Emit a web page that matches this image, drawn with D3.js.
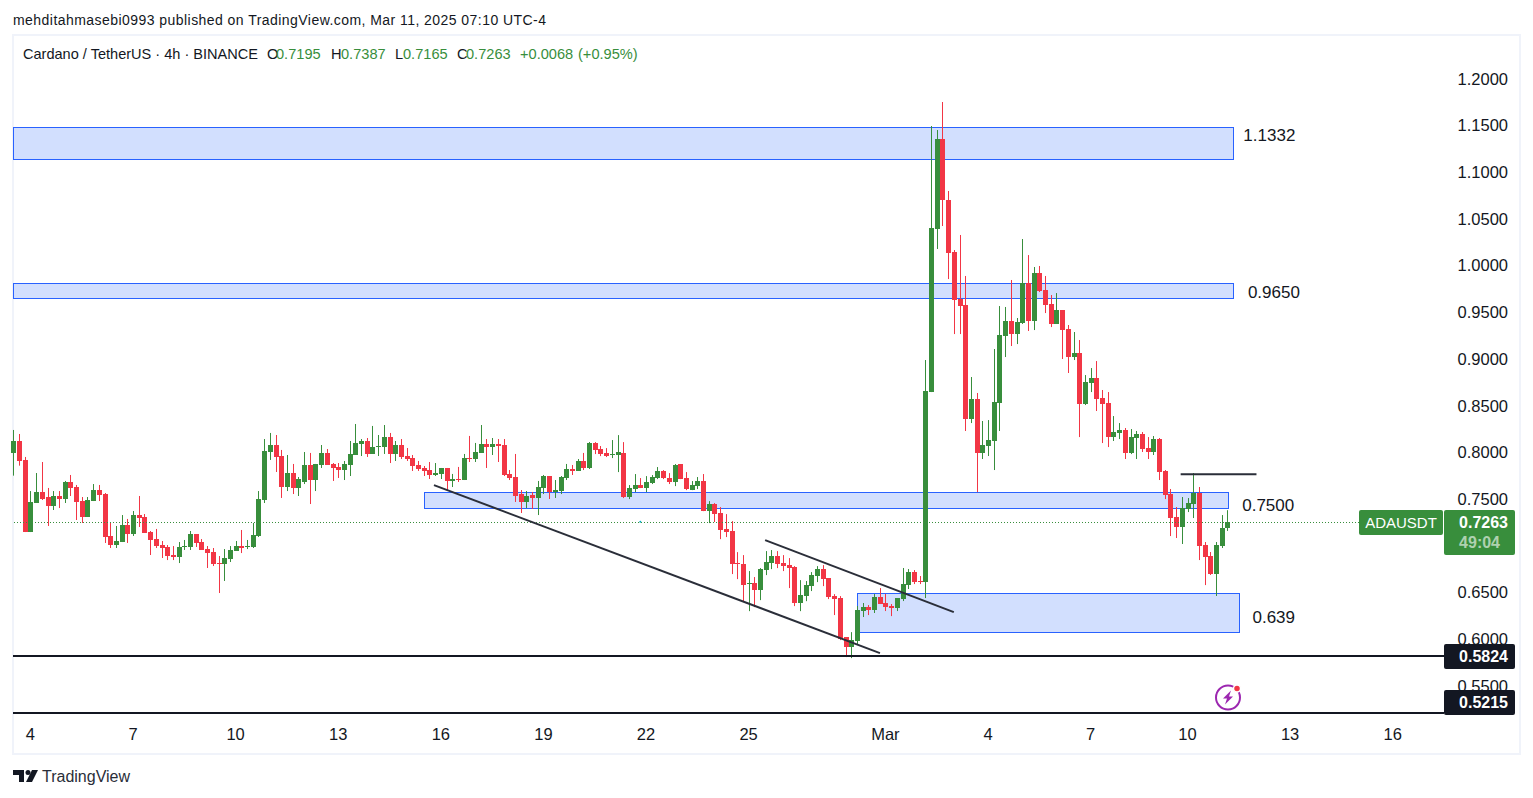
<!DOCTYPE html>
<html>
<head>
<meta charset="utf-8">
<script src="https://cdn.jsdelivr.net/npm/d3@7"></script>
<style>
  html, body { margin: 0; padding: 0; background: #fff; }
  svg { display: block; }
  text { font-family: "Liberation Sans", Arial, sans-serif; }
</style>
</head>
<body>
<div class="chart"></div>
<script>
const width = 1533, height = 798;

// ohlc, one entry per 4h candle
const opens = [.8000,.8128,.7925,.7153,.7464,.7582,.7528,.7432,.7539,.7507,
  .7689,.7635,.7485,.7314,.7485,.7603,.7560,.7111,.7014,.7046,
  .7228,.7132,.7335,.7314,.7153,.7078,.7014,.6993,.6907,.6886,
  .6993,.6993,.7132,.7046,.6971,.6939,.6821,.6811,.6864,.6950,
  .7003,.6993,.6993,.7111,.7496,.8010,.8085,.7967,.7635,.7785,
  .7625,.7689,.7871,.7710,.7871,.8000,.7882,.7850,.7817,.7871,
  .7978,.8096,.8128,.7989,.8064,.8064,.8171,.7989,.8085,.7967,
  .7946,.7871,.7839,.7817,.7764,.7775,.7839,.7700,.7721,.7710,
  .7946,.7935,.8000,.8096,.8064,.8096,.8085,.7775,.7742,.7560,
  .7475,.7550,.7518,.7625,.7753,.7582,.7592,.7732,.7828,.7807,
  .7914,.7839,.8106,.8041,.7999,.7977,.7977,.7999,.7527,.7613,
  .7656,.7624,.7677,.7731,.7806,.7731,.7688,.7881,.7731,.7602,
  .7645,.7699,.7377,.7452,.7356,.7185,.7163,.6820,.6810,.6596,
  .6606,.6531,.6745,.6820,.6895,.6820,.6799,.6778,.6392,.6467,
  .6574,.6681,.6756,.6660,.6467,.6446,.6028,.5921,.5986,.6307,
  .6350,.6318,.6457,.6393,.6361,.6339,.6435,.6585,.6725,.6628,
  .6618,.8652,1.0398,1.1362,1.0708,1.0152,.9648,.9584,.8363,.8577,
  .7999,.8074,.8128,.8534,.9252,.9413,.9273,.9391,.9820,.9413,
  .9927,.9745,.9595,.9381,.9530,.9327,.9027,.9070,.8524,.8749,
  .8802,.8588,.8534,.8170,.8213,.8245,.7999,.8160,.8203,.8053,
  .8010,.8149,.7806,.7560,.7314,.7207,.7399,.7453,.7571,.7014,
  .6896,.6703,.7003,.7195];
const highs = [.8246,.8203,.7957,.7592,.7785,.7903,.7625,.7592,.7592,.7700,
  .7764,.7657,.7528,.7528,.7667,.7657,.7571,.7250,.7218,.7335,
  .7293,.7378,.7539,.7346,.7164,.7186,.7057,.7014,.7003,.7046,
  .7068,.7164,.7132,.7078,.7003,.6982,.6896,.6971,.7003,.7057,
  .7175,.7068,.7250,.7592,.8149,.8214,.8192,.8032,.7978,.7882,
  .7742,.8010,.8000,.7882,.8085,.8042,.7892,.7892,.7914,.8128,
  .8310,.8149,.8160,.8289,.8192,.8299,.8214,.8128,.8149,.8053,
  .7978,.7914,.7860,.7903,.7892,.7839,.7839,.7775,.7850,.7989,
  .8182,.8107,.8299,.8149,.8160,.8149,.8149,.7817,.7989,.7603,
  .7592,.7582,.7700,.7764,.7753,.7710,.7753,.7882,.7871,.7935,
  .8000,.8117,.8116,.8074,.8052,.8138,.8191,.8116,.7656,.7774,
  .7731,.7752,.7763,.7849,.7816,.7784,.7881,.7881,.7795,.7699,
  .7742,.7774,.7484,.7463,.7420,.7345,.7270,.6938,.6906,.6735,
  .6671,.6767,.6949,.6960,.6949,.6906,.6874,.6788,.6638,.6628,
  .6724,.6788,.6799,.6660,.6488,.6467,.6028,.6081,.6361,.6393,
  .6371,.6489,.6553,.6489,.6382,.6446,.6768,.6757,.6746,.6682,
  .8995,1.1501,1.1458,1.1758,1.0805,1.0173,1.0334,.9895,.8813,.8642,
  .8342,.8352,.9113,.9573,.9563,.9852,.9445,1.0291,1.0119,.9991,
  1.0002,.9895,.9691,.9712,.9530,.9370,.9295,.9209,.8834,.8909,
  .8984,.8674,.8652,.8395,.8320,.8267,.8256,.8235,.8224,.8170,
  .8181,.8160,.7817,.7614,.7421,.7528,.7517,.7785,.7635,.7046,
  .6939,.7046,.7335,.7387];
const lows = [.7757,.7864,.7153,.7153,.7464,.7496,.7218,.7389,.7410,.7464,
  .7539,.7282,.7250,.7314,.7485,.7485,.7036,.6982,.6982,.7046,
  .7036,.7111,.7207,.7143,.6907,.6982,.6875,.6853,.6853,.6821,
  .6961,.6961,.6993,.6961,.6768,.6789,.6500,.6629,.6832,.6950,
  .6928,.6971,.6982,.7100,.7464,.7925,.7796,.7518,.7592,.7560,
  .7539,.7667,.7453,.7592,.7839,.7871,.7700,.7732,.7710,.7753,
  .7978,.7967,.7957,.7989,.7967,.7989,.7892,.7914,.7935,.7914,
  .7807,.7807,.7753,.7721,.7753,.7721,.7603,.7635,.7689,.7710,
  .7903,.7903,.8000,.7839,.7978,.7903,.7753,.7710,.7475,.7357,
  .7410,.7400,.7335,.7560,.7507,.7518,.7560,.7710,.7764,.7807,
  .7817,.7828,.7988,.7966,.7956,.7945,.7795,.7517,.7506,.7581,
  .7624,.7581,.7667,.7720,.7720,.7667,.7645,.7720,.7602,.7602,
  .7613,.7377,.7249,.7260,.7077,.7099,.6703,.6649,.6403,.6306,
  .6349,.6424,.6692,.6756,.6767,.6735,.6553,.6360,.6306,.6413,
  .6521,.6617,.6574,.6435,.6264,.5996,.5814,.5803,.5943,.6243,
  .6264,.6286,.6382,.6307,.6253,.6307,.6414,.6543,.6596,.6596,
  .6446,.8652,1.0184,1.0430,.9862,.9273,.9273,.8235,.8320,.7581,
  .7935,.7967,.7817,.8235,.9027,.9145,.9166,.9381,.9306,.9316,
  .9723,.9498,.9348,.9381,.9006,.8856,.8995,.8170,.8513,.8652,
  .8449,.8106,.8063,.8128,.8149,.7935,.7988,.7935,.8010,.7935,
  .7978,.7710,.7506,.7110,.7089,.7025,.7367,.7303,.6853,.6585,
  .6693,.6468,.6982,.7165];
const closes = [.8128,.7917,.7153,.7475,.7582,.7507,.7432,.7539,.7507,.7689,
  .7625,.7475,.7314,.7496,.7603,.7550,.7100,.7014,.7057,.7228,
  .7132,.7335,.7303,.7143,.7068,.7003,.6982,.6896,.6886,.6993,
  .7003,.7132,.7036,.6961,.6928,.6811,.6811,.6875,.6961,.7003,
  .6982,.7003,.7121,.7507,.8021,.8085,.7957,.7635,.7785,.7625,
  .7721,.7871,.7710,.7882,.8000,.7871,.7839,.7817,.7882,.7989,
  .8107,.8128,.7989,.8064,.8074,.8171,.7989,.8085,.7957,.7935,
  .7860,.7828,.7807,.7764,.7785,.7839,.7700,.7721,.7710,.7946,
  .7935,.8010,.8096,.8064,.8096,.8074,.7764,.7732,.7539,.7475,
  .7539,.7518,.7635,.7753,.7582,.7603,.7742,.7828,.7807,.7914,
  .7839,.8107,.8031,.7988,.7966,.7988,.8009,.7527,.7624,.7656,
  .7624,.7688,.7742,.7806,.7731,.7688,.7870,.7720,.7613,.7656,
  .7699,.7377,.7452,.7345,.7174,.7152,.6810,.6810,.6585,.6606,
  .6531,.6756,.6831,.6895,.6810,.6788,.6767,.6392,.6478,.6585,
  .6692,.6756,.6649,.6456,.6435,.6006,.5921,.5996,.6318,.6350,
  .6318,.6457,.6382,.6350,.6339,.6446,.6596,.6725,.6618,.6618,
  .8663,1.0409,1.1362,1.0708,1.0141,.9638,.9573,.8363,.8577,.7999,
  .8085,.8138,.8545,.9263,.9413,.9273,.9402,.9820,.9413,.9927,
  .9734,.9584,.9381,.9530,.9316,.9027,.9070,.8524,.8759,.8802,
  .8577,.8524,.8170,.8224,.8245,.7999,.8170,.8203,.8042,.8010,
  .8149,.7796,.7549,.7303,.7207,.7410,.7464,.7571,.7003,.6885,
  .6703,.7014,.7196,.7263];

const priceTicks = [1.2, 1.15, 1.1, 1.05, 1.0, .95, .9, .85, .8, .75, .65, .6, .55];
const timeTickIdx = [3, 21, 39, 57, 75, 93, 111, 129, 153, 171, 189, 206, 224, 242];
const timeTickLabels = ["4", "7", "10", "13", "16", "19", "22", "25", "Mar", "4", "7", "10", "13", "16"];

// drawings: [idx from, idx to, price top, price bottom]
const zones = [[0, 214, 1.1490, 1.1142], [0, 214, .9820, .9660],
  [72.05, 213.1, .7581, .7405], [148.1, 215.1, .6500, .6082]];
const zoneLabels = [["1.1332", 215.8, 1.1405], ["0.9650", 216.6, .9723], ["0.7500", 215.6, .7440], ["0.639", 217.4, .6240]];
const trendLines = [[73.8, .7656, 152.05, .5857], [131.9, .7067, 165.0, .6296], [204.8, .7772, 218.1, .7772]];
const levels = [.5824, .5215];
const lastPrice = .7263;

const green = "#388e3c", red = "#f23645", ink = "#131722";

const x = d3.scaleLinear().domain([0, 1]).range([13.3, 19]);
const y = d3.scaleLinear().domain([1.2, .55]).range([79.4, 686.4]);

const svg = d3.select(".chart")
    .append("svg")
    .attr("width", width)
    .attr("height", height)
    .attr("viewBox", [0, 0, width, height]);

// frame of the chart
svg.append("rect")
    .attr("x", 13).attr("y", 35)
    .attr("width", 1507).attr("height", 719)
    .attr("fill", "none")
    .attr("stroke", "#f0f3fa")
    .attr("stroke-width", 2);

// header
svg.append("text")
    .attr("x", 13).attr("y", 25)
    .attr("font-size", 14)
    .attr("fill", ink)
    .attr("textLength", 533)
    .text("mehditahmasebi0993 published on TradingView.com, Mar 11, 2025 07:10 UTC-4");

const legendBits = [
    ["Cardano / TetherUS · 4h · BINANCE", 23, ink], ["O", 267, ink], ["0.7195", 276, green],
    ["H", 331, ink], ["0.7387", 341, green], ["L", 395, ink], ["0.7165", 403, green],
    ["C", 457, ink], ["0.7263", 466, green], ["+0.0068", 520, green], ["(+0.95%)", 578, green]
];
svg.selectAll(".legend")
    .data(legendBits)
    .join("text")
    .attr("class", "legend")
    .attr("x", d => d[1])
    .attr("y", 59)
    .attr("font-size", 14.6)
    .attr("fill", d => d[2])
    .text(d => d[0]);
svg.select(".legend")
    .attr("textLength", 235)
    .attr("lengthAdjust", "spacingAndGlyphs");

const plot = svg.append("g");

plot.selectAll(".zone")
    .data(zones)
    .join("rect")
    .attr("class", "zone")
    .attr("x", d => Math.round(x(d[0])) + .5)
    .attr("y", d => Math.round(y(d[2])) + .5)
    .attr("width", d => Math.round(x(d[1]) - x(d[0])))
    .attr("height", d => Math.round(y(d[3]) - y(d[2])))
    .attr("fill", "#d2dffe")
    .attr("stroke", "#2962ff")
    .attr("stroke-width", 1);

// last price line
svg.append("line")
    .attr("x1", 14).attr("x2", 1359)
    .attr("y1", Math.round(y(lastPrice)) + .5).attr("y2", Math.round(y(lastPrice)) + .5)
    .attr("stroke", green)
    .attr("stroke-dasharray", "1 2");

svg.append("circle")
    .attr("cx", x(110.0)).attr("cy", y(lastPrice))
    .attr("r", 1)
    .attr("fill", "#00acc1");

const candles = plot.selectAll(".candle")
    .data(opens.map((o, i) => ({i: i, o: o, h: highs[i], l: lows[i], c: closes[i]})))
    .join("g")
    .attr("class", "candle")
    .attr("fill", d => d.c >= d.o ? green : red);

candles.append("rect")
    .attr("x", d => Math.round(x(d.i)))
    .attr("y", d => y(d.h))
    .attr("width", 1)
    .attr("height", d => y(d.l) - y(d.h));

candles.append("rect")
    .attr("x", d => Math.round(x(d.i)) - 2)
    .attr("y", d => Math.round(y(Math.max(d.o, d.c))))
    .attr("width", 5)
    .attr("height", d => Math.max(1, Math.round(Math.abs(y(d.o) - y(d.c)))));

svg.selectAll(".trend")
    .data(trendLines)
    .join("line")
    .attr("class", "trend")
    .attr("x1", d => x(d[0])).attr("y1", d => y(d[1]))
    .attr("x2", d => x(d[2])).attr("y2", d => y(d[3]))
    .attr("stroke", "#2a2e39")
    .attr("stroke-width", 2);

svg.selectAll(".level")
    .data(levels)
    .join("line")
    .attr("class", "level")
    .attr("x1", 13).attr("x2", 1444)
    .attr("y1", d => Math.round(y(d))).attr("y2", d => Math.round(y(d)))
    .attr("stroke", ink)
    .attr("stroke-width", 2);

svg.selectAll(".zone-label")
    .data(zoneLabels)
    .join("text")
    .attr("class", "zone-label")
    .attr("x", d => x(d[1]))
    .attr("y", d => y(d[2]))
    .attr("dy", "0.35em")
    .attr("font-size", 17)
    .attr("fill", ink)
    .text(d => d[0]);

// axes
const yAxis = svg.append("g")
    .attr("transform", "translate(1508,-0.5)")
    .call(d3.axisRight(y).tickValues(priceTicks).tickFormat(d3.format(".4f")).tickSize(0).tickPadding(0));
yAxis.select(".domain").remove();
yAxis.selectAll("text")
    .attr("text-anchor", "end")
    .attr("font-size", 16.5)
    .attr("font-family", "Liberation Sans")
    .attr("fill", ink);

const xAxis = svg.append("g")
    .attr("transform", "translate(-0.5,728)")
    .call(d3.axisBottom(x).tickValues(timeTickIdx).tickFormat((d, i) => timeTickLabels[i]).tickSize(0).tickPadding(0));
xAxis.select(".domain").remove();
xAxis.selectAll("text")
    .attr("font-size", 16.5)
    .attr("font-family", "Liberation Sans")
    .attr("fill", ink);

// price tags
const tag = svg.append("g");
tag.append("rect").attr("x", 1359).attr("y", 510).attr("width", 84).attr("height", 25).attr("rx", 2).attr("fill", green);
tag.append("text").attr("x", 1401).attr("y", 528).attr("text-anchor", "middle").attr("font-size", 15).attr("font-weight", 500).attr("fill", "#fff").text("ADAUSDT");
tag.append("rect").attr("x", 1444).attr("y", 510).attr("width", 71).attr("height", 45).attr("rx", 2).attr("fill", green);
tag.append("text").attr("x", 1508).attr("y", 528).attr("text-anchor", "end").attr("font-size", 16).attr("font-weight", 700).attr("fill", "#fff").text(lastPrice.toFixed(4));
tag.append("text").attr("x", 1500).attr("y", 548).attr("text-anchor", "end").attr("font-size", 16).attr("font-weight", 700).attr("fill", "#fff").attr("fill-opacity", .6).text("49:04");

// the lower tag is pushed up so it stays inside the pane
const levelTags = svg.selectAll(".level-tag")
    .data(levels)
    .join("g")
    .attr("class", "level-tag");
levelTags.append("rect")
    .attr("x", 1444).attr("y", d => Math.min(Math.round(y(d)) - 12, 690))
    .attr("width", 71).attr("height", 25).attr("rx", 2)
    .attr("fill", ink);
levelTags.append("text")
    .attr("x", 1508).attr("y", d => Math.min(Math.round(y(d)) - 12, 690) + 18)
    .attr("text-anchor", "end")
    .attr("font-size", 16).attr("font-weight", 700)
    .attr("fill", "#fff")
    .text(d => d.toFixed(4));

// flash icon
const icon = svg.append("g").attr("transform", "translate(1228,697.5)");
icon.append("circle").attr("r", 12).attr("fill", "#fff").attr("stroke", "#9c27b0").attr("stroke-width", 2);
icon.append("path").attr("d", "M3,-7 L-5,1 L-1,1 L-3,7 L5,-1 L1,-1 Z").attr("fill", "#9c27b0");
icon.append("circle").attr("cx", 9).attr("cy", -9).attr("r", 3.5).attr("fill", "#f23645").attr("stroke", "#fff").attr("stroke-width", 1.5);

// logo
const logo = svg.append("g").attr("fill", ink);
logo.append("path").attr("d", "M13,770 H24 V782 H19 V775 H13 Z");
logo.append("circle").attr("cx", 28).attr("cy", 772.5).attr("r", 2.5);
logo.append("path").attr("d", "M32,770 H38 L32,782 H26 Z");
svg.append("text").attr("x", 42).attr("y", 782).attr("font-size", 16).attr("fill", "#2a2e39").text("TradingView");
</script>
</body>
</html>
